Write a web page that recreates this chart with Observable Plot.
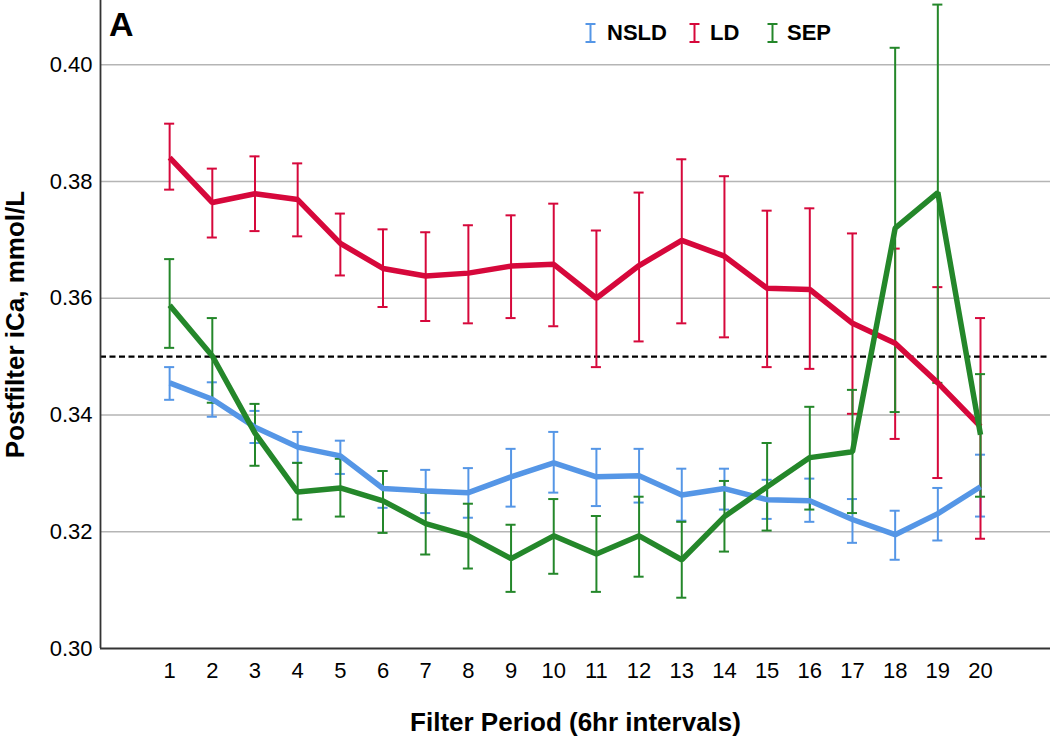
<!DOCTYPE html>
<html>
<head>
<meta charset="utf-8">
<script src="https://cdn.jsdelivr.net/npm/d3@7"></script>
<script src="https://cdn.jsdelivr.net/npm/@observablehq/plot@0.6"></script>
<style>
  body { margin: 0; background: #fff; }
  #wrap { position: relative; width: 1050px; height: 738px; font-family: "Liberation Sans", Arial, sans-serif; color: #000; }
  #chart svg { display: block; }
  [aria-label="x-axis label"] text, [aria-label="y-axis label"] text { font-size: 26px; font-weight: bold; }
  .leg-icon { position: absolute; top: 23px; }
  .leg-text { position: absolute; top: 22px; font-size: 22px; font-weight: bold; line-height: 1; }
  #panel { position: absolute; left: 109px; top: 7px; font-size: 34px; font-weight: bold; line-height: 1; }
</style>
</head>
<body>
<div id="wrap">
  <div id="chart"></div>
  <div id="panel">A</div>
  <div id="legend"></div>
</div>
<script>
// ---- data ----
const periods = [1, 2, 3, 4, 5, 6, 7, 8, 9, 10, 11, 12, 13, 14, 15, 16, 17, 18, 19, 20];

const nsldMean = [0.3455, 0.3427, 0.3379, 0.3345, 0.3330, 0.3274, 0.3270, 0.3267, 0.3294, 0.3318, 0.3294, 0.3296, 0.3263, 0.3274, 0.3255, 0.3253, 0.3221, 0.3195, 0.3231, 0.3277];
const nsldHigh = [0.3482, 0.3456, 0.3407, 0.3371, 0.3356, 0.3304, 0.3306, 0.3309, 0.3342, 0.3371, 0.3342, 0.3342, 0.3308, 0.3308, 0.3289, 0.3291, 0.3256, 0.3236, 0.3275, 0.3332];
const nsldLow  = [0.3426, 0.3397, 0.3352, 0.3318, 0.3299, 0.3241, 0.3232, 0.3224, 0.3243, 0.3267, 0.3244, 0.3250, 0.3219, 0.3238, 0.3222, 0.3217, 0.3181, 0.3152, 0.3185, 0.3226];

const ldMean = [0.3841, 0.3764, 0.3779, 0.3769, 0.3694, 0.3651, 0.3638, 0.3643, 0.3655, 0.3658, 0.3600, 0.3656, 0.3699, 0.3672, 0.3617, 0.3615, 0.3557, 0.3523, 0.3455, 0.3380];
const ldHigh = [0.3899, 0.3822, 0.3843, 0.3831, 0.3745, 0.3718, 0.3713, 0.3725, 0.3742, 0.3762, 0.3716, 0.3781, 0.3838, 0.3809, 0.3750, 0.3754, 0.3711, 0.3685, 0.3619, 0.3566];
const ldLow  = [0.3786, 0.3704, 0.3715, 0.3706, 0.3639, 0.3585, 0.3561, 0.3557, 0.3566, 0.3552, 0.3482, 0.3526, 0.3557, 0.3533, 0.3482, 0.3479, 0.3402, 0.3359, 0.3292, 0.3188];

const sepMean = [0.3588, 0.3501, 0.3369, 0.3268, 0.3275, 0.3253, 0.3214, 0.3193, 0.3154, 0.3193, 0.3162, 0.3193, 0.3152, 0.3226, 0.3277, 0.3327, 0.3337, 0.3720, 0.3781, 0.3366];
const sepHigh = [0.3667, 0.3566, 0.3419, 0.3318, 0.3325, 0.3304, 0.3267, 0.3248, 0.3212, 0.3256, 0.3227, 0.3260, 0.3217, 0.3287, 0.3352, 0.3414, 0.3443, 0.4029, 0.4103, 0.3470];
const sepLow  = [0.3515, 0.3421, 0.3313, 0.3221, 0.3226, 0.3198, 0.3161, 0.3137, 0.3097, 0.3128, 0.3097, 0.3123, 0.3087, 0.3166, 0.3202, 0.3238, 0.3232, 0.3405, 0.3455, 0.3260];

const seriesNames = ["NSLD", "LD", "SEP"];
const seriesColors = ["#5596e6", "#d6083b", "#24872a"];
const yTicks = [0.30, 0.32, 0.34, 0.36, 0.38, 0.40];
const threshold = [0.35];
const xTitle = "Filter Period (6hr intervals)";
const yTitle = "Postfilter iCa, mmol/L";

// ---- build rows ----
const seriesData = [
  [nsldMean, nsldLow, nsldHigh],
  [ldMean, ldLow, ldHigh],
  [sepMean, sepLow, sepHigh]
];
const rows = seriesData.map(([m, lo, hi], s) =>
  periods.map((p, i) => ({period: p, mean: m[i], lo: lo[i], hi: hi[i], series: seriesNames[s], color: seriesColors[s]}))
);

const capHalf = 0.118;
const errMarks = rows.flatMap(r => [
  Plot.ruleX(r, {x: "period", y1: "lo", y2: "hi", stroke: "color", strokeWidth: 2}),
  Plot.ruleY(r, {y: "hi", x1: d => d.period - capHalf, x2: d => d.period + capHalf, stroke: "color", strokeWidth: 2}),
  Plot.ruleY(r, {y: "lo", x1: d => d.period - capHalf, x2: d => d.period + capHalf, stroke: "color", strokeWidth: 2})
]);
const lineMarks = rows.map((r, s) =>
  Plot.line(r, {x: "period", y: "mean", stroke: seriesColors[s], strokeWidth: 5.5, strokeLinejoin: "miter", strokeLinecap: "butt"})
);

const xDomain = [periods[0] - 1.62, periods[periods.length - 1] + 1.64];
const yDomain = [yTicks[0], 0.411];

const chart = Plot.plot({
  width: 1050,
  height: 738,
  marginTop: 0,
  marginLeft: 100,
  marginRight: 0,
  marginBottom: 90,
  style: {fontFamily: "'Liberation Sans', Arial, sans-serif", fontSize: "22px", color: "#000", background: "#fff"},
  x: {domain: xDomain},
  y: {domain: yDomain},
  marks: [
    Plot.ruleY(yTicks.slice(1), {stroke: "#b5b5b5", strokeWidth: 1.5}),
    Plot.ruleY(threshold, {stroke: "#000", strokeWidth: 2.2, strokeDasharray: "6,3.5"}),
    ...errMarks,
    ...lineMarks,
    Plot.ruleY([yDomain[0]], {stroke: "#333", strokeWidth: 1.8}),
    Plot.ruleX([xDomain[0]], {stroke: "#333", strokeWidth: 1.8}),
    Plot.axisX({ticks: periods, tickSize: 0, tickPadding: 14, fontSize: 22, tickFormat: d => String(d),
      label: xTitle, labelAnchor: "center", labelOffset: 82, labelArrow: "none"}),
    Plot.axisY({ticks: yTicks, tickSize: 0, tickPadding: 8, fontSize: 22, tickFormat: d => d.toFixed(2),
      label: yTitle, labelAnchor: "center", labelOffset: 95, labelArrow: "none"})
  ]
});
document.getElementById("chart").appendChild(chart);

// ---- legend ----
const legendIconX = [585, 689, 767];
const legendTextX = [607, 710, 787];
const legend = document.getElementById("legend");
seriesNames.forEach((name, i) => {
  const ns = "http://www.w3.org/2000/svg";
  const svg = document.createElementNS(ns, "svg");
  svg.setAttribute("width", 11); svg.setAttribute("height", 20);
  svg.setAttribute("class", "leg-icon");
  svg.style.left = legendIconX[i] + "px";
  [[5.5, 1, 5.5, 19], [0.5, 1, 10.5, 1], [0.5, 19, 10.5, 19]].forEach(([x1, y1, x2, y2]) => {
    const l = document.createElementNS(ns, "line");
    l.setAttribute("x1", x1); l.setAttribute("y1", y1); l.setAttribute("x2", x2); l.setAttribute("y2", y2);
    l.setAttribute("stroke", seriesColors[i]); l.setAttribute("stroke-width", 2);
    svg.appendChild(l);
  });
  legend.appendChild(svg);
  const t = document.createElement("div");
  t.className = "leg-text";
  t.style.left = legendTextX[i] + "px";
  t.textContent = name;
  legend.appendChild(t);
});
</script>
</body>
</html>
